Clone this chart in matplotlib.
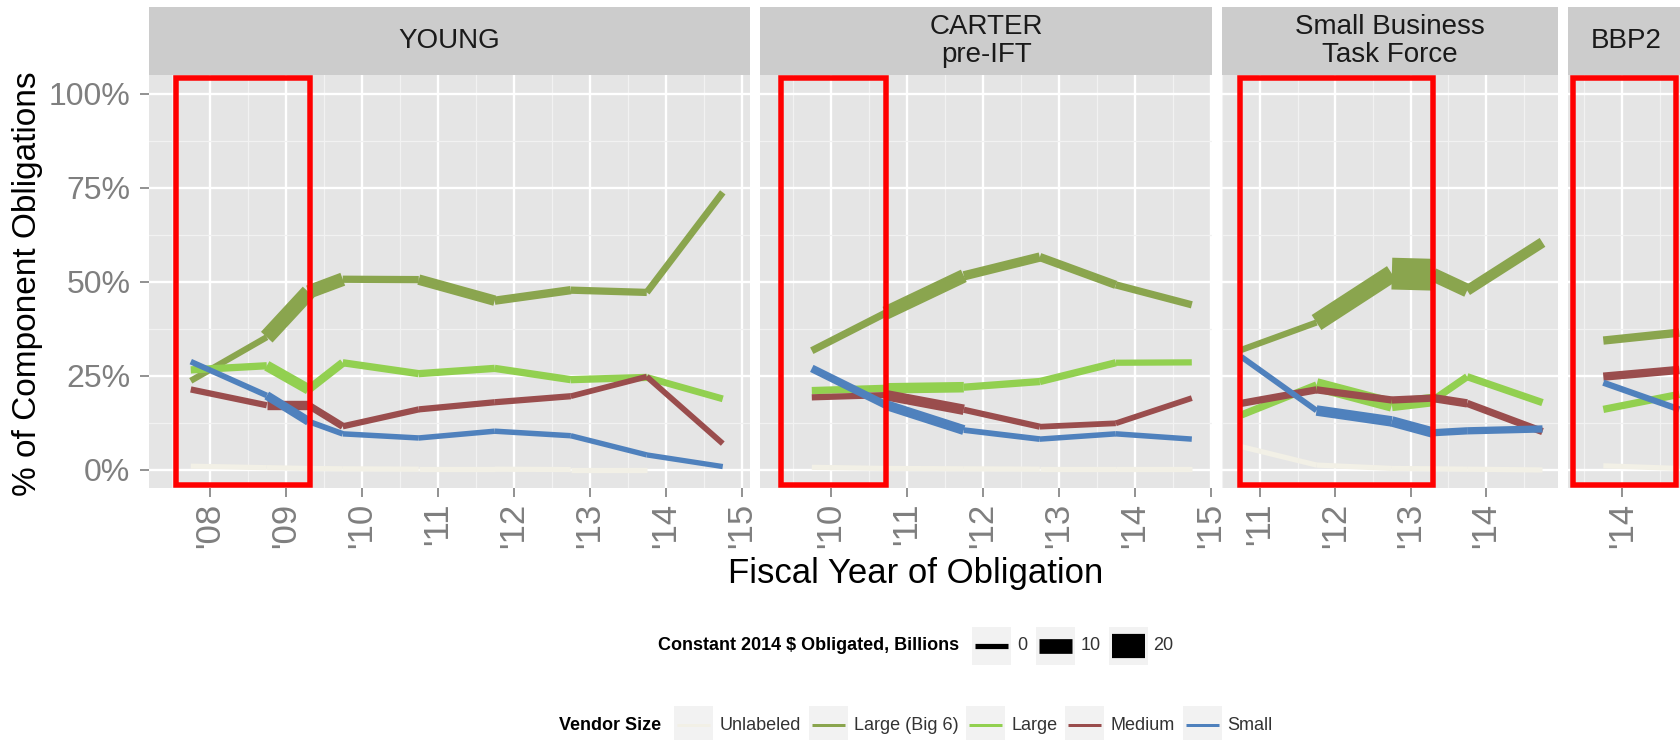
import numpy as np
import matplotlib
matplotlib.use("Agg")
import matplotlib.pyplot as plt
from matplotlib.collections import LineCollection
from matplotlib.patches import Rectangle

plt.rcParams['font.family'] = ['Liberation Sans', 'DejaVu Sans']

# vendor size categories (legend order = draw order)
vendor_sizes = ["Unlabeled", "Large (Big 6)", "Large", "Medium", "Small"]
vendor_colors = ["#F2F0E6", "#8AA54E", "#92D050", "#9A4D4D", "#4F81BD"]
size_breaks = [0, 10, 20]

panel_names = ["YOUNG", "CARTER\npre-IFT", "Small Business\nTask Force", "BBP2"]
# highlighted period per panel (fiscal year start dates)
periods = [(2007.56, 2009.32), (2009.34, 2010.72), (2010.74, 2013.30), (2013.35, 2014.71)]

# --- YOUNG
young_x = [2007.75, 2008.75, 2009.3, 2009.75, 2010.75, 2011.75, 2012.75, 2013.75, 2014.75]
young_share = [
    [0.010, 0.006, 0.004, 0.003, 0.002, 0.002, 0.001, 0.001, np.nan],
    [0.237, 0.353, 0.473, 0.507, 0.506, 0.450, 0.478, 0.472, 0.738],
    [0.266, 0.277, 0.214, 0.285, 0.256, 0.270, 0.240, 0.246, 0.189],
    [0.214, 0.172, 0.172, 0.116, 0.161, 0.180, 0.196, 0.248, 0.070],
    [0.288, 0.198, 0.129, 0.096, 0.085, 0.103, 0.091, 0.040, 0.009],
]
young_bil = [
    [0.0, 0.0, 0.0, 0.0, 0.0, 0.0, 0.0, 0.0, 0.0],
    [1.1, 11.1, 8.9, 2.2, 5.6, 3.3, 2.2, 1.7, 1.7],
    [2.2, 5.6, 3.3, 2.2, 2.2, 2.2, 2.2, 1.7, 1.7],
    [1.1, 4.4, 2.2, 1.1, 1.1, 1.1, 0.6, 0.6, 0.6],
    [0.6, 3.9, 0.6, 0.3, 0.3, 0.3, 0.2, 0.1, 0.1],
]

# --- CARTER pre-IFT
carter_x = [2009.75, 2010.72, 2011.75, 2012.75, 2013.75, 2014.75]
carter_share = [
    [0.007, 0.004, 0.003, 0.002, 0.002, 0.002],
    [0.317, 0.417, 0.516, 0.566, 0.492, 0.439],
    [0.211, 0.217, 0.220, 0.235, 0.285, 0.286],
    [0.193, 0.199, 0.160, 0.115, 0.124, 0.191],
    [0.270, 0.173, 0.106, 0.082, 0.096, 0.082],
]
carter_bil = [
    [0.0, 0.0, 0.0, 0.0, 0.0, 0.0],
    [2.2, 8.9, 4.4, 3.3, 2.2, 2.2],
    [2.2, 5.6, 2.2, 2.2, 1.1, 1.1],
    [1.1, 5.6, 1.1, 0.6, 0.6, 0.6],
    [2.8, 5.0, 0.6, 0.3, 0.3, 0.3],
]

# --- Small Business Task Force
sbtf_x = [2010.75, 2011.75, 2012.75, 2013.3, 2013.75, 2014.75]
sbtf_share = [
    [0.062, 0.013, 0.004, 0.003, 0.002, 0.000],
    [0.319, 0.392, 0.522, 0.519, 0.477, 0.605],
    [0.146, 0.226, 0.173, 0.186, 0.248, 0.179],
    [0.177, 0.213, 0.186, 0.191, 0.177, 0.102],
    [0.301, 0.158, 0.129, 0.099, 0.104, 0.109],
]
sbtf_bil = [
    [0.0, 0.0, 0.0, 0.0, 0.0, 0.0],
    [1.1, 13.3, 28.0, 8.9, 5.6, 5.6],
    [2.2, 8.9, 7.8, 2.2, 2.2, 2.2],
    [2.2, 2.2, 2.2, 3.3, 2.2, 2.2],
    [0.6, 5.6, 5.6, 2.2, 2.2, 2.2],
]

# --- BBP2
bbp2_x = [2013.75, 2014.75]
bbp2_share = [
    [0.011, 0.004],
    [0.344, 0.365],
    [0.161, 0.201],
    [0.248, 0.266],
    [0.232, 0.161],
]
bbp2_bil = [
    [0.0, 0.0],
    [3.3, 3.3],
    [2.2, 2.2],
    [3.3, 3.3],
    [1.1, 1.1],
]

panel_x = [young_x, carter_x, sbtf_x, bbp2_x]
panel_share = [young_share, carter_share, sbtf_share, bbp2_share]
panel_bil = [young_bil, carter_bil, sbtf_bil, bbp2_bil]

W, H = 1680, 740
PX = 72.0 / 100  # points per pixel


def size_pt(b):
    # linear size scale: $0B -> ~5px, $20B -> ~24px
    return (5.2 + 0.95 * b) * PX


fig = plt.figure(figsize=(W / 100, H / 100), dpi=100)

px_per_year = 76
left = 149
gap = 10
top, bottom, strip_top = 75, 488, 7

for k, name in enumerate(panel_names):
    xs = panel_x[k]
    p0, p1 = periods[k]
    lo = min(xs[0], p0)
    hi = max(xs[-1], p1)
    pad = 0.05 * (hi - lo)
    xlim = (lo - pad, hi + pad)
    wpx = (xlim[1] - xlim[0]) * px_per_year

    ax = fig.add_axes([left / W, 1 - bottom / H, wpx / W, (bottom - top) / H])
    ax.set_facecolor("#E5E5E5")
    for s in ax.spines.values():
        s.set_visible(False)
    ax.set_xlim(*xlim)
    ax.set_ylim(-0.048, 1.05)

    years = np.arange(np.ceil(xlim[0]), np.floor(xlim[1]) + 1)
    ax.set_xticks(years)
    ax.set_xticklabels(["'%02d" % (int(y) % 100) for y in years])
    halfs = np.arange(np.floor(xlim[0]) + 0.5, xlim[1], 1.0)
    ax.set_xticks(halfs, minor=True)
    ax.set_yticks([0, 0.25, 0.5, 0.75, 1.0])
    ax.set_yticks([0.125, 0.375, 0.625, 0.875], minor=True)
    ax.set_yticklabels(["0%", "25%", "50%", "75%", "100%"])
    ax.grid(which="major", color="white", lw=1.7)
    ax.grid(which="minor", color="#F2F2F2", lw=0.9)
    ax.set_axisbelow(True)
    ax.tick_params(which="minor", length=0)
    ax.tick_params(axis="x", which="major", length=6.5, width=1.2, color="#7F7F7F",
                   labelsize=25, labelcolor="#7F7F7F", labelrotation=90, pad=4)
    if k == 0:
        ax.tick_params(axis="y", which="major", length=6.5, width=1.2, color="#7F7F7F",
                       labelsize=23, labelcolor="#7F7F7F", pad=7)
    else:
        ax.tick_params(axis="y", which="major", length=0, labelleft=False)

    shares = panel_share[k]
    bils = panel_bil[k]
    for j, color in enumerate(vendor_colors):
        ys = shares[j]
        segs, lws = [], []
        for i in range(len(xs) - 1):
            if np.isnan(ys[i]) or np.isnan(ys[i + 1]):
                continue
            segs.append([(xs[i], ys[i]), (xs[i + 1], ys[i + 1])])
            lws.append(size_pt(bils[j][i]))
        lc = LineCollection(segs, colors=color, linewidths=lws, capstyle="butt", zorder=3)
        ax.add_collection(lc)

    ax.add_patch(Rectangle((p0, -0.041), p1 - p0, 1.082, fill=False, edgecolor="#FF0000",
                           lw=5.5 * PX, joinstyle="miter", zorder=5))

    # facet strip
    sax = fig.add_axes([left / W, 1 - top / H, wpx / W, (top - strip_top) / H])
    sax.set_facecolor("#CCCCCC")
    sax.set_xticks([])
    sax.set_yticks([])
    for s in sax.spines.values():
        s.set_visible(False)
    sax.text(0.5, 0.5, name, ha="center", va="center", fontsize=20, color="#1A1A1A",
             linespacing=1.05, transform=sax.transAxes)

    left += wpx + gap

fig.text(28 / W, 1 - 284 / H, "% of Component Obligations", rotation=90,
         ha="center", va="center", fontsize=24, color="black")
fig.text(916 / W, 1 - 573 / H, "Fiscal Year of Obligation", ha="center", va="center",
         fontsize=25, color="black")

# legends drawn in pixel coordinates on an overlay
lax = fig.add_axes([0, 0, 1, 1])
lax.set_xlim(0, W)
lax.set_ylim(H, 0)
lax.axis("off")
renderer = fig.canvas.get_renderer()


def draw_legend(title, labels, colors, widths, yc, center=916):
    tt = lax.text(0, yc, title, fontsize=13, fontweight="bold", ha="left", va="center")
    lts = [lax.text(0, yc, lab, fontsize=13, color="#333333", ha="left", va="center")
           for lab in labels]
    tw = tt.get_window_extent(renderer).width
    lws = [t.get_window_extent(renderer).width for t in lts]
    key = 39
    total = tw + 13 + sum(key + 6 + w + 8 for w in lws) - 8
    x = center - total / 2
    tt.set_x(x)
    x += tw + 13
    for t, w, c, lw in zip(lts, lws, colors, widths):
        lax.add_patch(Rectangle((x, yc - 19), key, 38, facecolor="#F2F2F2", edgecolor="none"))
        lax.plot([x + 3, x + key - 3], [yc, yc], color=c, lw=lw, solid_capstyle="butt")
        t.set_x(x + key + 6)
        x += key + 6 + w + 8


draw_legend("Constant 2014 $ Obligated, Billions", [str(b) for b in size_breaks],
            ["black"] * len(size_breaks), [size_pt(b) for b in size_breaks], 646)
draw_legend("Vendor Size", vendor_sizes, vendor_colors, [3 * PX] * len(vendor_sizes), 725)

fig.savefig("out.png", dpi=100)
